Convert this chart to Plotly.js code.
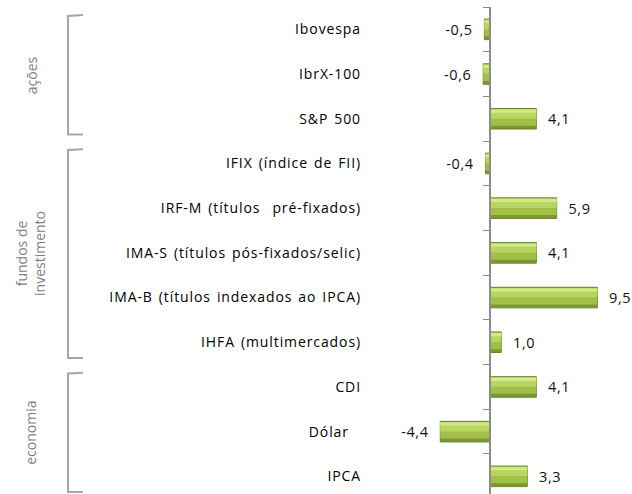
<!DOCTYPE html>
<html>
<head>
<meta charset="utf-8">
<script src="https://cdn.plot.ly/plotly-3.0.1.min.js"></script>
<style>
html,body{margin:0;padding:0;background:#fff;}
#chart{width:632px;height:494px;}
.ytick text{letter-spacing:0.9px;word-spacing:1.5px;}
.bartext{letter-spacing:0.6px;}
</style>
</head>
<body>
<div id="chart"></div>
<script>
// ---- data ----
var categories = ["Ibovespa", "IbrX-100", "S&P 500", "IFIX (índice de FII)", "IRF-M (títulos  pré-fixados)",
  "IMA-S (títulos pós-fixados/selic)", "IMA-B (títulos indexados ao IPCA)", "IHFA (multimercados)",
  "CDI", "Dólar\u00a0\u00a0", "IPCA"];
var values = [-0.5, -0.6, 4.1, -0.4, 5.9, 4.1, 9.5, 1.0, 4.1, -4.4, 3.3];
var groupNames = ["ações", "fundos de<br>investimento", "economia"];
var groupFirst = [0, 3, 8];
var groupLast = [2, 7, 10];
var boundaryTicks = [-0.5, 0.5, 1.5, 2.5, 3.5, 4.5, 5.5, 6.5, 7.5, 8.5, 9.5];

(function () {
// ---- layout constants ----
var W = 632, H = 494, ML = 368, MR = 7, MT = 7, MB = 0;
var xRange = [-10.8, 11.95];
var yRange = [10.395, -0.5];
var plotW = W - ML - MR;
function pxToPaperX(px) { return (px - ML) / plotW; }
var zeroPos = (0 - xRange[0]) / (xRange[1] - xRange[0]);

var NB = "\u00a0\u00a0";
var templates = values.map(function (v) { return v >= 0 ? NB + "%{x:.1f}" : "%{x:.1f}" + NB; });

function layer(width, offset, color, lineColor) {
  return {
    type: "bar", orientation: "h", x: values, y: categories,
    width: width, offset: offset,
    marker: { color: color, line: { color: lineColor || color, width: lineColor ? 1 : 0 } },
    hoverinfo: "skip"
  };
}
var baseBar = layer(0.46, -0.23, "#7b9934", "#6a8629");
baseBar.texttemplate = templates;
baseBar.textposition = "outside";
baseBar.cliponaxis = false;
baseBar.textfont = { family: "Open Sans", size: 14.5, color: "#111" };
var midBar = layer(0.37, -0.215, "#a2bf48");
var upperBar = layer(0.21, -0.215, "#b8d55d");
var topBar = layer(0.07, -0.205, "#d2e98c");

var dummy = {
  type: "scatter", x: [0], y: [0], yaxis: "y2", mode: "markers",
  marker: { opacity: 0 }, hoverinfo: "skip"
};

var shapes = [], annotations = [];
var bx = pxToPaperX(68), bx2 = pxToPaperX(83), lx = pxToPaperX(31);
for (var i = 0; i < groupNames.length; i++) {
  var t = groupFirst[i] - 0.3, b = groupLast[i] + 0.35;
  shapes.push({
    type: "path", xref: "paper", yref: "y2",
    path: "M " + bx2 + "," + (t - 0.02) + " L " + bx + "," + t + " L " + bx + "," + b + " L " + bx2 + "," + b,
    line: { color: "#a6a6a6", width: 2 }
  });
  annotations.push({
    xref: "paper", yref: "y2", x: lx, y: (t + b) / 2,
    text: groupNames[i], showarrow: false, textangle: -90,
    font: { family: "Open Sans", size: 14, color: "#7f7f7f" },
    xanchor: "center", yanchor: "middle"
  });
}

var layout = {
  width: W, height: H,
  margin: { l: ML, r: MR, t: MT, b: MB, pad: 0 },
  paper_bgcolor: "#fff", plot_bgcolor: "rgba(0,0,0,0)",
  showlegend: false, barmode: "overlay", separators: ",.",
  font: { family: "Open Sans", size: 14, color: "#000" },
  xaxis: { range: xRange, visible: false, fixedrange: true },
  yaxis: {
    type: "category", range: yRange, showline: false, showgrid: false, zeroline: false,
    ticks: "", ticklabelstandoff: 6, tickfont: { family: "Open Sans", size: 14, color: "#000" }
  },
  yaxis2: {
    overlaying: "y", anchor: "free", position: zeroPos, side: "left",
    range: yRange, showgrid: false, zeroline: false, showline: true,
    linecolor: "#8c8c8c", linewidth: 2, ticks: "outside", ticklen: 6, tickwidth: 1,
    tickcolor: "#8c8c8c", tickvals: boundaryTicks, showticklabels: false
  },
  shapes: shapes, annotations: annotations
};

Plotly.newPlot("chart", [baseBar, midBar, upperBar, topBar, dummy], layout, { displayModeBar: false, staticPlot: true });
})();
</script>
</body>
</html>
